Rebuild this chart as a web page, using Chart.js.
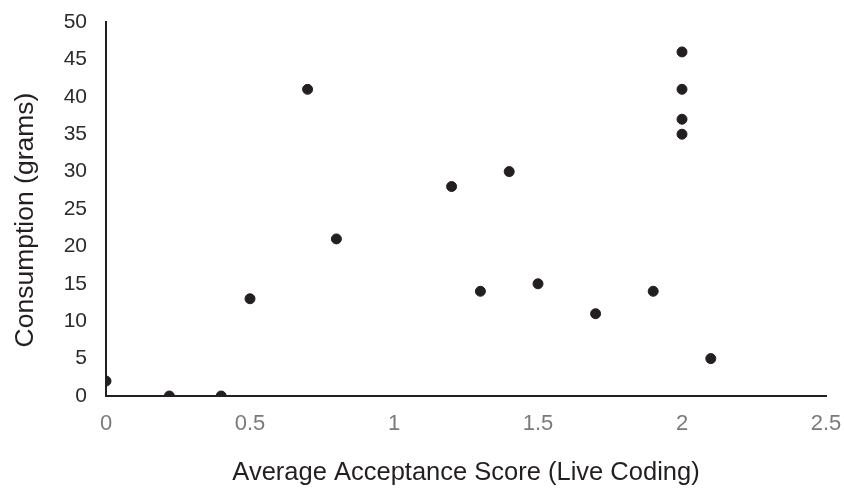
<!DOCTYPE html>
<html>
<head>
<meta charset="utf-8">
<script src="https://cdn.jsdelivr.net/npm/chart.js@4.4.0/dist/chart.umd.min.js"></script>
<style>
  html, body { margin: 0; padding: 0; background: #fff; }
  #wrap { width: 844px; height: 488px; }
</style>
</head>
<body>
<div id="wrap"><canvas id="chart" width="844" height="488"></canvas></div>
<script>
// acceptance score (x) and consumption in grams (y)
const scores = [0, 0.22, 0.4, 0.5, 0.7, 0.8, 1.2, 1.3, 1.4, 1.5, 1.7, 1.9, 2, 2, 2, 2, 2.1];
const grams = [2, 0, 0, 13, 41, 21, 28, 14, 30, 15, 11, 14, 46, 41, 37, 35, 5];

const xTicks = [0, 0.5, 1, 1.5, 2, 2.5];
const yTicks = [0, 5, 10, 15, 20, 25, 30, 35, 40, 45, 50];

const points = scores.map((s, i) => ({ x: s, y: grams[i] }));

const font = 'Liberation Sans, Arial, Helvetica, sans-serif';

// drop the tick label overflow so the plot box follows layout.padding only
function noOverflow(axis) {
  axis.paddingTop = 0;
  axis.paddingBottom = 0;
  axis.paddingLeft = 0;
  axis.paddingRight = 0;
}

new Chart(document.getElementById('chart'), {
  type: 'scatter',
  data: {
    datasets: [
      {
        data: points,
        backgroundColor: '#231f20',
        borderColor: '#231f20',
        pointRadius: 5,
        pointHoverRadius: 5,
      },
    ],
  },
  options: {
    responsive: false,
    animation: false,
    layout: { padding: { top: 22, right: 18, left: 0, bottom: 0 } },
    plugins: { legend: { display: false }, tooltip: { enabled: false } },
    scales: {
      x: {
        type: 'linear',
        min: 0,
        max: 2.5,
        afterBuildTicks: (axis) => {
          axis.ticks = xTicks.map((v) => ({ value: v }));
        },
        grid: { display: false, drawTicks: false },
        border: { display: true, color: '#231f20', width: 2 },
        ticks: {
          color: '#7a7a7a',
          font: { family: font, size: 22 },
          padding: 15,
          maxRotation: 0,
          callback: (v) => String(v),
        },
        title: {
          display: true,
          text: 'Average Acceptance Score (Live Coding)',
          color: '#231f20',
          font: { family: font, size: 25.5 },
          padding: { top: 20, bottom: 0 },
        },
        afterFit: (axis) => {
          axis.height = 92;
          noOverflow(axis);
        },
      },
      y: {
        type: 'linear',
        min: 0,
        max: 50,
        afterBuildTicks: (axis) => {
          axis.ticks = yTicks.map((v) => ({ value: v }));
        },
        grid: { display: false, drawTicks: false },
        border: { display: true, color: '#231f20', width: 2 },
        ticks: {
          color: '#2b2b2b',
          font: { family: font, size: 21 },
          padding: 19,
          callback: (v) => String(v),
        },
        title: {
          display: true,
          text: 'Consumption (grams)   ',
          color: '#231f20',
          font: { family: font, size: 26.5 },
          padding: { top: 10, bottom: 0 },
        },
        afterFit: (axis) => {
          axis.width = 106;
          noOverflow(axis);
        },
      },
    },
  },
});
</script>
</body>
</html>
